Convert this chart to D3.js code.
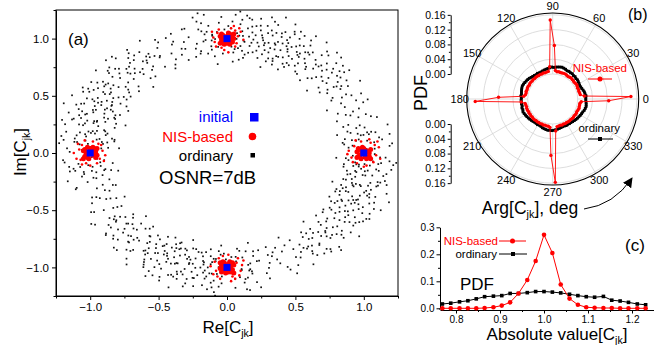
<!DOCTYPE html>
<html>
<head>
<meta charset="utf-8">
<script src="https://cdn.jsdelivr.net/npm/d3@7"></script>
<style>
  body { margin: 0; background: #fff; }
  svg { display: block; font-family: Arial, "Liberation Sans", sans-serif; }
</style>
</head>
<body>
<svg id="chart" width="654" height="345"></svg>
<script>
/********************* Data *************************/
// panel (a): constellation, initial points
const initialRe = [0, -1, 0, 1];
const initialIm = [1, 0, -1, 0];

// panel (a): NIS-based samples, offsets from each initial point [dRe, dIm]
const nisNorth = [[0.01,0.02],[-0.02,0.01],[0.03,-0.01],[-0.01,-0.03],[0.04,0.03],[-0.04,-0.01],[0.02,0.04],[-0.03,0.03],[0.00,-0.04],[0.05,0.00],[-0.05,0.02],[0.02,-0.05],[-0.02,-0.05],[0.04,-0.03],[-0.04,0.04],[0.01,0.05],[0.03,0.01],[-0.01,0.00],[0.00,0.02],[-0.03,-0.03],[0.05,0.04],[-0.05,-0.04],
  [0.08,0.02],[-0.07,0.05],[0.06,-0.07],[-0.09,-0.03],[0.03,0.09],[-0.02,-0.10],[0.10,0.06],[-0.06,0.08],[0.07,-0.04],[-0.10,0.01],[0.05,0.11],[-0.04,-0.08],[0.12,-0.01],[-0.08,-0.07],[0.09,0.09],[0.01,-0.12],[-0.11,0.06],[0.06,0.07]];
const nisWest = [[-0.01,0.01],[0.02,-0.02],[-0.03,0.00],[0.01,0.03],[-0.04,-0.03],[0.04,0.01],[-0.02,-0.04],[0.03,0.04],[0.00,0.04],[-0.05,0.02],[0.05,-0.02],[-0.02,0.05],[0.02,0.05],[-0.04,0.03],[0.04,-0.04],[-0.01,-0.05],[0.01,-0.01],[0.00,0.00],[-0.03,-0.02],[0.03,0.02],[0.05,0.04],[-0.05,-0.05],
  [-0.08,0.03],[0.07,-0.05],[-0.06,0.07],[0.09,0.02],[-0.03,-0.09],[0.02,0.10],[-0.10,-0.05],[0.06,0.08],[-0.07,-0.06],[0.11,-0.02],[-0.04,0.11],[0.05,-0.09],[-0.12,0.00],[0.08,0.07],[-0.09,0.08],[0.00,-0.11],[0.10,-0.07],[-0.06,-0.10]];
const nisSouth = [[0.02,0.00],[-0.01,0.02],[0.00,-0.02],[-0.03,-0.01],[0.03,0.03],[-0.02,0.04],[0.04,-0.02],[-0.04,0.02],[0.01,-0.04],[0.05,0.02],[-0.05,-0.01],[0.02,0.05],[-0.01,-0.05],[0.03,-0.04],[-0.03,0.05],[0.04,0.04],[-0.04,-0.04],[0.00,0.01],[0.01,0.03],[-0.02,-0.02],[0.05,-0.05],[-0.05,0.04],
  [0.07,0.04],[-0.08,-0.03],[0.04,-0.08],[-0.06,0.08],[0.10,-0.03],[-0.03,0.10],[0.08,0.08],[-0.10,-0.06],[0.01,0.11],[-0.05,-0.10],[0.11,0.02],[-0.09,0.05],[0.06,-0.10],[-0.12,0.01],[0.03,-0.12],[0.09,-0.07],[-0.07,-0.08],[0.12,0.06]];
const nisEast = [[0.00,0.01],[0.02,0.02],[-0.02,-0.01],[0.01,-0.03],[-0.03,0.03],[0.04,0.00],[-0.04,-0.03],[0.03,-0.04],[0.00,0.04],[-0.05,0.01],[0.05,0.03],[-0.01,0.05],[0.02,-0.05],[-0.04,0.04],[0.04,-0.03],[-0.02,-0.05],[0.01,0.00],[-0.01,0.02],[0.03,0.01],[-0.03,-0.02],[0.05,-0.05],[-0.05,-0.04],
  [0.09,-0.02],[-0.07,0.06],[0.05,0.09],[-0.09,-0.04],[0.07,-0.08],[-0.02,0.10],[0.11,0.05],[-0.05,-0.09],[0.02,-0.11],[-0.11,0.02],[0.08,0.07],[-0.08,-0.08],[0.12,-0.05],[0.00,-0.12],[-0.06,0.11],[0.10,0.10],[-0.12,-0.01],[0.04,0.12]];

// panel (a): ordinary samples, [arg in deg, |C|]
const ordinaryPolar = [
  [91,1.08],[94,0.93],[97,1.12],[100,0.99],[92,1.19],[96,0.85],[99,1.05],[102,0.91],[93,1.01],[98,1.22],[101,1.10],[95,0.78],
  [81,1.03],[85,0.92],[88,1.15],[83,1.21],[87,0.88],[84,1.07],[89,0.97],[82,0.84],[86,1.26],[80,0.95],[88,1.02],[83,0.99],[85,1.13],[81,1.18],[87,0.80],[84,0.94],[86,1.05],[82,1.10],[89,1.28],[80,0.89],
  [79,1.01],[76,0.96],[73,1.12],[70,0.88],[67,1.04],[64,0.93],[61,1.17],[58,0.99],[56,1.06],[78,1.20],[75,0.86],[72,1.08],[69,0.97],[66,1.23],[63,0.82],[60,1.02],[57,0.91],[77,1.10],[74,1.00],[71,0.93],[68,1.14],[65,1.06],[62,0.96],[59,1.09],[55,0.87],[78,0.90],[75,1.15],[72,0.79],[69,1.04],[66,0.92],[63,1.19],[60,0.95],[57,1.12],[76,1.06],[73,0.94],[70,1.26],[67,0.84],[64,1.01],[61,0.90],[58,1.16],[74,0.98],[71,1.11],[68,0.89],[65,1.03],[62,1.13],
  [54,0.97],[51,1.10],[48,0.88],[45,1.03],[42,0.94],[39,1.15],[36,0.99],[53,1.21],[50,0.83],[47,1.07],[44,0.96],[41,1.09],[38,0.86],[35,1.02],[52,0.93],[49,1.13],[46,1.00],[43,0.80],[40,1.05],[37,0.92],[55,1.05],[50,1.01],[45,1.18],[40,0.95],[36,1.08],
  [34,1.00],[31,0.89],[28,1.11],[25,0.95],[22,1.04],[19,0.85],[16,1.14],[13,0.97],[10,1.07],[7,0.92],[33,1.16],[30,0.97],[27,0.82],[24,1.09],[21,0.93],[18,1.01],[15,0.88],[12,1.20],[9,0.99],[6,1.03],[29,1.04],[20,0.96],
  [181,1.02],[184,0.90],[187,1.13],[190,0.97],[183,1.20],[186,0.84],[189,1.06],[192,0.93],[182,0.99],[188,1.16],[185,1.09],[191,0.81],
  [171,1.05],[175,0.91],[178,1.17],[173,1.22],[177,0.87],[174,1.04],[179,0.95],[172,0.83],[176,1.27],[170,0.98],[178,1.01],[173,0.96],[175,1.12],[171,1.19],[177,0.79],[174,0.92],[176,1.08],[172,1.11],[179,1.25],[170,0.90],
  [169,1.00],[166,0.97],[163,1.13],[160,0.87],[157,1.05],[154,0.94],[151,1.16],[148,1.00],[146,1.07],[168,1.21],[165,0.85],[162,1.09],[159,0.96],[156,1.24],[153,0.81],[150,1.03],[147,0.90],[167,1.11],[164,1.01],[161,0.92],[158,1.15],[155,1.07],[152,0.95],[149,1.10],[145,0.86],[168,0.91],[165,1.16],[162,0.78],[159,1.05],[156,0.93],[153,1.18],[150,0.96],[147,1.13],[166,1.07],[163,0.93],[160,1.27],[157,0.85],[154,1.02],[151,0.89],[148,1.17],[164,0.99],[161,1.12],[158,0.88],[155,1.04],[152,1.14],
  [144,0.98],[141,1.11],[138,0.87],[135,1.04],[132,0.95],[129,1.16],[126,1.00],[143,1.20],[140,0.84],[137,1.08],[134,0.97],[131,1.10],[128,0.85],[125,1.03],[142,0.94],[139,1.14],[136,1.01],[133,0.79],[130,1.06],[127,0.91],[145,1.06],[140,1.02],[135,1.19],[130,0.96],[126,1.09],
  [124,1.01],[121,0.88],[118,1.12],[115,0.96],[112,1.05],[109,0.86],[106,1.13],[103,0.98],[100,1.08],[97,0.91],[123,1.17],[120,0.98],[117,0.83],[114,1.10],[111,0.92],[108,1.02],[105,0.87],[102,1.21],[99,1.00],[96,1.04],[119,1.05],[110,0.97],
  [271,1.03],[274,0.91],[277,1.11],[280,0.98],[273,1.18],[276,0.86],[279,1.04],[282,0.92],[272,1.00],[278,1.21],[275,1.09],[281,0.80],
  [261,1.04],[265,0.93],[268,1.14],[263,1.20],[267,0.89],[264,1.06],[269,0.96],[262,0.85],[266,1.25],[260,0.97],[268,1.03],[263,0.98],[265,1.12],[261,1.17],[267,0.81],[264,0.93],[266,1.06],[262,1.09],[269,1.27],[260,0.88],
  [259,1.02],[256,0.95],[253,1.11],[250,0.89],[247,1.05],[244,0.92],[241,1.18],[238,0.98],[236,1.07],[258,1.19],[255,0.87],[252,1.09],[249,0.96],[246,1.22],[243,0.83],[240,1.01],[237,0.90],[257,1.12],[254,1.00],[251,0.94],[248,1.15],[245,1.05],[242,0.97],[239,1.08],[235,0.88],[258,0.89],[255,1.14],[252,0.80],[249,1.03],[246,0.91],[243,1.20],[240,0.94],[237,1.11],[256,1.07],[253,0.95],[250,1.25],[247,0.85],[244,1.00],[241,0.91],[238,1.15],[254,0.97],[251,1.12],[248,0.90],[245,1.02],[242,1.13],
  [234,0.96],[231,1.09],[228,0.89],[225,1.02],[222,0.93],[219,1.14],[216,1.00],[233,1.22],[230,0.84],[227,1.06],[224,0.95],[221,1.10],[218,0.87],[215,1.01],[232,0.92],[229,1.12],[226,1.01],[223,0.81],[220,1.04],[217,0.93],[235,1.04],[230,1.00],[225,1.17],[220,0.96],[216,1.07],
  [214,0.99],[211,0.90],[208,1.10],[205,0.94],[202,1.03],[199,0.86],[196,1.15],[193,0.98],[190,1.06],[187,0.93],[213,1.15],[210,0.96],[207,0.84],[204,1.08],[201,0.92],[198,1.00],[195,0.89],[192,1.19],[189,1.00],[186,1.02],[209,1.03],[200,0.95],
  [1,1.01],[4,0.92],[7,1.12],[10,0.97],[3,1.19],[6,0.85],[9,1.05],[12,0.90],[2,1.02],[8,1.20],[5,1.08],[11,0.82],
  [351,1.02],[355,0.94],[358,1.16],[353,1.21],[357,0.87],[354,1.05],[359,0.98],[352,0.86],[356,1.24],[350,0.96],[358,1.04],[353,0.97],[355,1.11],[351,1.18],[357,0.80],[354,0.95],[356,1.07],[352,1.12],[359,1.26],[350,0.89],
  [349,1.03],[346,0.94],[343,1.10],[340,0.90],[337,1.04],[334,0.93],[331,1.19],[328,0.97],[326,1.08],[348,1.18],[345,0.88],[342,1.07],[339,0.95],[336,1.23],[333,0.84],[330,1.02],[327,0.91],[347,1.13],[344,1.01],[341,0.92],[338,1.16],[335,1.06],[332,0.98],[329,1.09],[325,0.86],[348,0.90],[345,1.13],[342,0.81],[339,1.04],[336,0.90],[333,1.17],[330,0.95],[327,1.12],[346,1.08],[343,0.96],[340,1.26],[337,0.86],[334,1.01],[331,0.90],[328,1.14],[344,0.98],[341,1.10],[338,0.89],[335,1.03],[332,1.12],
  [324,0.97],[321,1.08],[318,0.90],[315,1.03],[312,0.94],[309,1.13],[306,1.01],[323,1.21],[320,0.85],[317,1.05],[314,0.96],[311,1.11],[308,0.88],[305,1.02],[322,0.93],[319,1.13],[316,1.00],[313,0.82],[310,1.05],[307,0.92],[325,1.05],[320,1.01],[315,1.16],[310,0.97],[306,1.06],
  [304,1.00],[301,0.89],[298,1.11],[295,0.95],[292,1.04],[289,0.87],[286,1.14],[283,0.97],[280,1.07],[277,0.92],[303,1.16],[300,0.97],[297,0.83],[294,1.09],[291,0.93],[288,1.01],[285,0.88],[282,1.20],[279,0.99],[276,1.03],[299,1.04],[290,0.96]
];
// more ordinary samples read from the denser parts of the ring
const ordinaryPolar2 = [
  [90,0.96],[93,1.14],[96,1.03],[99,0.88],[101,1.17],[94,1.06],[97,0.94],[92,0.87],[100,1.24],[95,1.00],
  [80.5,1.12],[82.5,0.98],[84.5,1.17],[86.5,0.91],[88.5,1.09],[81.5,0.87],[83.5,1.03],[85.5,1.24],[87.5,0.97],[89.5,1.11],[80,1.07],[84,0.82],[86,1.00],[88,0.93],[82,1.19],[85,1.03],[87,1.21],[83,0.90],
  [79.5,0.98],[77.5,1.14],[75.5,1.04],[73.5,0.90],[71.5,1.18],[69.5,1.01],[67.5,0.87],[65.5,1.11],[63.5,0.99],[61.5,1.06],[59.5,0.89],[57.5,1.21],[55.5,1.00],[78.5,1.05],[76.5,0.92],[74.5,1.23],[72.5,1.01],[70.5,0.85],[68.5,1.09],[66.5,0.98],[64.5,1.15],[62.5,0.88],[60.5,1.08],[58.5,1.02],[56.5,0.94],[79,1.13],[77,0.99],[75,1.02],[73,1.20],[71,0.97],[69,1.12],[67,0.92],[65,1.17],[63,1.04],[61,0.86],[59,1.00],[57,1.05],[74,1.09],[70,1.02],[66,1.08],
  [54.5,1.08],[52.5,0.95],[50.5,1.15],[48.5,1.01],[46.5,0.90],[44.5,1.12],[42.5,1.04],[40.5,0.88],[38.5,1.06],[36.5,0.97],[53.5,0.86],[51.5,1.04],[49.5,0.97],[47.5,1.19],[45.5,0.93],[43.5,1.07],[41.5,0.99],[39.5,1.11],[37.5,1.02],[35.5,0.90],[48,1.03],[42,1.14],
  [33.5,1.06],[30.5,1.01],[27.5,0.94],[24.5,1.13],[21.5,0.99],[18.5,1.07],[15.5,0.92],[12.5,1.03],[9.5,1.10],[6.5,0.95],[32,0.91],[26,1.05],[23,0.88],[17,1.10],[14,1.00],[8,0.87],
  [180,1.01],[183,0.95],[186,1.16],[189,0.90],[191,1.08],[184,1.19],[187,0.99],[182,1.05],[190,0.86],[185,0.93],
  [170.5,1.09],[172.5,0.94],[174.5,1.20],[176.5,0.98],[178.5,1.06],[171.5,0.85],[173.5,1.12],[175.5,1.02],[177.5,0.92],[179.5,1.15],[170,1.01],[174,0.88],[176,1.23],[178,0.96],[172,1.04],[175,1.10],[177,1.00],[173,0.83],
  [169.5,1.03],[167.5,0.92],[165.5,1.17],[163.5,0.99],[161.5,1.08],[159.5,0.88],[157.5,1.13],[155.5,1.01],[153.5,0.94],[151.5,1.20],[149.5,1.05],[147.5,0.87],[145.5,1.10],[168.5,0.97],[166.5,1.24],[164.5,1.06],[162.5,0.85],[160.5,1.15],[158.5,1.03],[156.5,0.91],[154.5,1.09],[152.5,0.99],[150.5,1.12],[148.5,0.93],[146.5,1.02],[169,0.89],[167,1.08],[165,1.01],[163,1.21],[161,0.95],[159,1.18],[157,0.97],[155,1.13],[153,1.06],[151,0.84],[149,1.00],[147,1.07],[164,1.11],[160,1.04],[156,0.96],
  [144.5,1.02],[142.5,0.91],[140.5,1.13],[138.5,1.05],[136.5,0.94],[134.5,1.16],[132.5,1.00],[130.5,0.86],[128.5,1.09],[126.5,0.98],[143.5,0.89],[141.5,1.07],[139.5,0.95],[137.5,1.20],[135.5,0.99],[133.5,1.04],[131.5,0.92],[129.5,1.13],[127.5,1.01],[125.5,0.93],[138,1.10],[132,1.06],
  [123.5,1.04],[120.5,0.97],[117.5,1.09],[114.5,0.90],[111.5,1.12],[108.5,0.96],[105.5,1.05],[102.5,0.89],[99.5,1.15],[96.5,0.99],[122,1.00],[116,0.86],[113,1.03],[107,1.13],[104,0.94],[98,1.07],
  [270,0.98],[273,1.10],[276,1.02],[279,0.87],[281,1.15],[274,0.95],[277,1.20],[272,0.91],[280,1.05],[275,0.84],
  [260.5,1.06],[262.5,0.91],[264.5,1.18],[266.5,1.00],[268.5,0.88],[261.5,1.11],[263.5,0.96],[265.5,1.22],[267.5,1.04],[269.5,0.93],[260,0.99],[264,1.14],[266,0.86],[268,1.08],[262,1.01],[265,0.95],[267,1.17],[263,1.06],
  [259.5,0.96],[257.5,1.12],[255.5,1.00],[253.5,0.87],[251.5,1.16],[249.5,1.03],[247.5,0.91],[245.5,1.19],[243.5,0.98],[241.5,1.07],[239.5,0.85],[237.5,1.13],[235.5,1.01],[258.5,1.09],[256.5,0.89],[254.5,1.21],[252.5,0.97],[250.5,1.10],[248.5,1.04],[246.5,0.86],[244.5,1.12],[242.5,1.00],[240.5,0.93],[238.5,1.17],[236.5,1.05],[259,0.92],[257,1.03],[255,1.18],[253,1.06],[251,0.90],[249,1.14],[247,0.99],[245,0.88],[243,1.09],[241,1.23],[239,1.02],[237,0.95],[254,1.01],[250,1.15],[246,0.94],
  [234.5,1.05],[232.5,0.92],[230.5,1.11],[228.5,0.99],[226.5,1.17],[224.5,0.88],[222.5,1.03],[220.5,0.95],[218.5,1.13],[216.5,1.01],[233.5,0.98],[231.5,1.18],[229.5,0.87],[227.5,1.06],[225.5,0.94],[223.5,1.10],[221.5,1.00],[219.5,0.89],[217.5,1.07],[215.5,0.96],[228,1.02],[222,1.12],
  [213.5,1.03],[210.5,0.93],[207.5,1.12],[204.5,0.97],[201.5,1.06],[198.5,0.88],[195.5,1.14],[192.5,1.00],[189.5,0.91],[186.5,1.08],[212,1.17],[206,0.90],[203,1.01],[197,0.95],[194,1.05],[188,1.12],
  [0,1.00],[3,0.89],[6,1.14],[9,1.01],[11,0.92],[4,1.21],[7,0.97],[2,1.08],[10,1.04],[5,0.86],
  [350.5,0.95],[352.5,1.10],[354.5,1.01],[356.5,1.19],[358.5,0.92],[351.5,1.04],[353.5,0.86],[355.5,1.13],[357.5,1.00],[359.5,1.08],[350,1.16],[354,0.97],[356,0.89],[358,1.12],[352,0.99],[355,1.22],[357,1.05],[353,0.93],
  [349.5,1.08],[347.5,0.96],[345.5,1.14],[343.5,1.02],[341.5,0.88],[339.5,1.11],[337.5,0.99],[335.5,1.18],[333.5,0.94],[331.5,1.05],[329.5,1.00],[327.5,0.89],[325.5,1.12],[348.5,0.92],[346.5,1.20],[344.5,1.07],[342.5,0.97],[340.5,1.15],[338.5,0.86],[336.5,1.03],[334.5,1.10],[332.5,0.91],[330.5,1.17],[328.5,1.04],[326.5,0.95],[349,1.01],[347,1.15],[345,0.90],[343,1.22],[341,1.06],[339,0.93],[337,1.13],[335,0.98],[333,1.08],[331,0.87],[329,1.16],[327,1.03],[344,0.95],[340,1.09],[336,1.01],
  [324.5,1.01],[322.5,1.14],[320.5,0.94],[318.5,1.07],[316.5,0.99],[314.5,1.19],[312.5,0.90],[310.5,1.04],[308.5,0.96],[306.5,1.11],[323.5,0.87],[321.5,1.03],[319.5,1.10],[317.5,0.93],[315.5,1.06],[313.5,1.00],[311.5,1.15],[309.5,0.91],[307.5,1.02],[305.5,1.08],[318,0.98],[312,1.13],
  [303.5,0.96],[300.5,1.06],[297.5,0.91],[294.5,1.12],[291.5,1.00],[288.5,0.94],[285.5,1.09],[282.5,0.88],[279.5,1.03],[276.5,1.14],[302,1.02],[296,1.17],[293,0.90],[287,1.05],[284,0.97],[278,1.10]
];

// panel (b): PDF of Arg[Cjk], 100 bins of 3.6 deg starting at 0
const argBinWidth = 3.6;
const nisArgPdf = [
  0.144,0.018,0.008,0.007,0.006,0.007,0.006,0.007,0.008,0.007,
  0.006,0.007,0.007,0.008,0.007,0.006,0.007,0.008,0.008,0.007,
  0.007,0.008,0.007,0.010,0.077,0.146,0.020,0.008,0.007,0.006,
  0.007,0.006,0.007,0.006,0.007,0.007,0.006,0.007,0.006,0.007,
  0.007,0.006,0.007,0.007,0.006,0.007,0.006,0.007,0.011,0.079,
  0.142,0.018,0.008,0.007,0.006,0.007,0.007,0.006,0.007,0.006,
  0.007,0.006,0.007,0.007,0.006,0.007,0.006,0.007,0.006,0.007,
  0.006,0.007,0.007,0.010,0.085,0.158,0.019,0.008,0.007,0.006,
  0.007,0.006,0.007,0.006,0.007,0.007,0.006,0.007,0.007,0.006,
  0.007,0.007,0.006,0.007,0.008,0.007,0.007,0.007,0.010,0.084
];
const ordArgPdf = [
  0.022,0.023,0.021,0.020,0.018,0.016,0.015,0.014,0.015,0.016,
  0.017,0.016,0.018,0.017,0.019,0.018,0.019,0.018,0.020,0.021,
  0.022,0.021,0.020,0.019,0.018,0.019,0.017,0.016,0.015,0.014,
  0.013,0.012,0.012,0.013,0.012,0.013,0.014,0.015,0.017,0.018,
  0.019,0.020,0.021,0.022,0.021,0.020,0.019,0.018,0.019,0.017,
  0.018,0.017,0.018,0.017,0.019,0.018,0.020,0.019,0.018,0.017,
  0.016,0.015,0.014,0.013,0.012,0.012,0.013,0.012,0.013,0.015,
  0.016,0.017,0.018,0.017,0.018,0.017,0.016,0.015,0.014,0.013,
  0.012,0.012,0.013,0.012,0.013,0.013,0.014,0.015,0.016,0.017,
  0.018,0.019,0.020,0.021,0.023,0.024,0.025,0.024,0.023,0.022
];
const argTicks = [0, 30, 60, 90, 120, 150, 180, 210, 240, 270, 300, 330];
const pdfTicks = [0, 0.04, 0.08, 0.12, 0.16];

// panel (c): PDF of |Cjk|
const absValue = [0.769,0.788,0.808,0.827,0.846,0.865,0.885,0.904,0.923,0.942,0.962,0.981,1.000,
                  1.019,1.038,1.058,1.077,1.096,1.115,1.135,1.154,1.173,1.192,1.212,1.231];
const nisAbsPdf = [0,0,0,0,0,0.001,0.004,0.010,0.022,0.055,0.105,0.175,0.272,
                   0.205,0.088,0.036,0.013,0.004,0.002,0.001,0.001,0,0,0,0];
const ordAbsPdf = [0.016,0.019,0.024,0.028,0.035,0.043,0.045,0.047,0.055,0.055,0.058,0.062,0.062,
                   0.060,0.057,0.052,0.047,0.043,0.041,0.044,0.030,0.027,0.022,0.016,0.013];

const RED = '#ff0000', BLUE = '#0000ff';
const svg = d3.select('#chart');

// helper: text with a "jk" subscript, e.g. Re[C_jk]
function subLabel(sel, pre, post) {
  sel.append('tspan').text(pre);
  sel.append('tspan').attr('dy', 4).attr('font-size', '0.62em').text('jk');
  sel.append('tspan').attr('dy', -4).text(post);
  return sel;
}

function styleAxis(g, size) {
  g.attr('font-family', null).attr('font-size', size);
  g.selectAll('path, line').attr('stroke', '#000').attr('stroke-width', 1);
}

/***************** Panel (a) ************************/
const ax = d3.scaleLinear().domain([-1.25, 1.25]).range([56, 398]);
const ay = d3.scaleLinear().domain([-1.25, 1.25]).range([296, 10]);

svg.append('clipPath').attr('id', 'clipA')
   .append('rect').attr('x', 56).attr('y', 10).attr('width', 342).attr('height', 286);

const pa = svg.append('g').attr('clip-path', 'url(#clipA)');

pa.selectAll('.ord')
  .data(ordinaryPolar.concat(ordinaryPolar2))
  .enter().append('rect')
  .attr('class', 'ord')
  .attr('x', d => ax(d[1] * Math.cos(d[0] * Math.PI / 180)) - 0.85)
  .attr('y', d => ay(d[1] * Math.sin(d[0] * Math.PI / 180)) - 0.85)
  .attr('width', 1.7).attr('height', 1.7)
  .attr('fill', '#111');

// NIS samples: bigger dots in the dense core, small dots in the fringe
[nisNorth, nisWest, nisSouth, nisEast].forEach((pts, i) => {
  pa.selectAll('.nis' + i)
    .data(pts)
    .enter().append('circle')
    .attr('class', 'nis' + i)
    .attr('cx', d => ax(initialRe[i] + d[0]))
    .attr('cy', d => ay(initialIm[i] + d[1]))
    .attr('r', d => Math.hypot(d[0], d[1]) < 0.072 ? 2.5 : 1.3)
    .attr('fill', RED);
});

pa.selectAll('.init')
  .data(initialRe)
  .enter().append('rect')
  .attr('class', 'init')
  .attr('x', (d, i) => ax(d) - 3.5)
  .attr('y', (d, i) => ay(initialIm[i]) - 3.5)
  .attr('width', 7).attr('height', 7)
  .attr('fill', BLUE);

// axes (a)
const axTicks = [-1, -0.5, 0, 0.5, 1];
const axMinor = [-1.25, -0.75, -0.25, 0.25, 0.75, 1.25];
svg.append('g').attr('transform', 'translate(0,296)')
   .call(d3.axisBottom(ax).tickValues(axTicks).tickSize(4).tickSizeOuter(0).tickPadding(3).tickFormat(d3.format('.1f')))
   .call(g => styleAxis(g, 11.5));
svg.append('g').attr('transform', 'translate(0,296)')
   .call(d3.axisBottom(ax).tickValues(axMinor).tickSize(2.5).tickFormat(''))
   .call(g => { styleAxis(g, 11.5); g.select('.domain').remove(); });
svg.append('g').attr('transform', 'translate(56,0)')
   .call(d3.axisLeft(ay).tickValues(axTicks).tickSize(4).tickSizeOuter(0).tickPadding(3).tickFormat(d3.format('.1f')))
   .call(g => styleAxis(g, 11.5));
svg.append('g').attr('transform', 'translate(56,0)')
   .call(d3.axisLeft(ay).tickValues(axMinor).tickSize(2.5).tickFormat(''))
   .call(g => { styleAxis(g, 11.5); g.select('.domain').remove(); });
svg.append('rect').attr('x', 56).attr('y', 10).attr('width', 342).attr('height', 286)
   .attr('fill', 'none').attr('stroke', '#000').attr('stroke-width', 1);

subLabel(svg.append('text').attr('x', 228).attr('y', 333).attr('text-anchor', 'middle').attr('font-size', 17), 'Re[C', ']');
subLabel(svg.append('text').attr('transform', 'translate(26,152) rotate(-90)').attr('text-anchor', 'middle').attr('font-size', 17), 'Im[C', ']');

svg.append('text').attr('x', 68).attr('y', 45).attr('font-size', 17).text('(a)');

// legend (a)
const legA = svg.append('g');
legA.append('text').attr('x', 233).attr('y', 122).attr('text-anchor', 'end').attr('font-size', 15).attr('fill', BLUE).text('initial');
legA.append('rect').attr('x', 250).attr('y', 113).attr('width', 8.5).attr('height', 8.5).attr('fill', BLUE);
legA.append('text').attr('x', 233).attr('y', 142).attr('text-anchor', 'end').attr('font-size', 15).attr('fill', RED).text('NIS-based');
legA.append('circle').attr('cx', 252.5).attr('cy', 136.5).attr('r', 3.8).attr('fill', RED);
legA.append('text').attr('x', 233).attr('y', 160.5).attr('text-anchor', 'end').attr('font-size', 15).attr('fill', '#000').text('ordinary');
legA.append('rect').attr('x', 250.5).attr('y', 153).attr('width', 4.5).attr('height', 4.5).attr('fill', '#000');
svg.append('text').attr('x', 159).attr('y', 184).attr('font-size', 18.5).text('OSNR=7dB');

/***************** Panel (b) ************************/
const cx = 552.7, cy = 99;
const rScale = d3.scaleLinear().domain([0, 0.165]).range([25, 86]);
const toRad = a => a * Math.PI / 180;
const px = (a, v) => cx + rScale(v) * Math.cos(toRad(a));
const py = (a, v) => cy - rScale(v) * Math.sin(toRad(a));

const pb = svg.append('g');

// grid
pb.selectAll('.gridc')
  .data(pdfTicks)
  .enter().append('circle')
  .attr('cx', cx).attr('cy', cy)
  .attr('r', d => rScale(d))
  .attr('fill', 'none').attr('stroke', '#d4d4d4').attr('stroke-width', 0.8);
pb.selectAll('.spoke')
  .data(argTicks)
  .enter().append('line')
  .attr('x1', d => px(d, 0)).attr('y1', d => py(d, 0))
  .attr('x2', d => cx + 86 * Math.cos(toRad(d))).attr('y2', d => cy - 86 * Math.sin(toRad(d)))
  .attr('stroke', '#d4d4d4').attr('stroke-width', 0.8);
pb.append('circle').attr('cx', cx).attr('cy', cy).attr('r', 86)
  .attr('fill', 'none').attr('stroke', '#000').attr('stroke-width', 1.1);

pb.selectAll('.argLab')
  .data(argTicks)
  .enter().append('text')
  .attr('x', d => cx + 93 * Math.cos(toRad(d)))
  .attr('y', d => cy - 93 * Math.sin(toRad(d)) + 4)
  .attr('text-anchor', 'middle')
  .attr('font-size', 11)
  .text(d => d);

const radial = d3.lineRadial()
  .angle((d, i) => toRad(90 - (i + 0.5) * argBinWidth))
  .radius(d => rScale(d))
  .curve(d3.curveLinearClosed);

pb.append('path')
  .attr('transform', `translate(${cx},${cy})`)
  .attr('d', radial(ordArgPdf))
  .attr('fill', 'none').attr('stroke', '#000').attr('stroke-width', 2.2).attr('stroke-linejoin', 'round');
pb.selectAll('.ordM')
  .data(ordArgPdf)
  .enter().append('rect')
  .attr('x', (d, i) => px((i + 0.5) * argBinWidth, d) - 1.4)
  .attr('y', (d, i) => py((i + 0.5) * argBinWidth, d) - 1.4)
  .attr('width', 2.8).attr('height', 2.8).attr('fill', '#000');

pb.append('path')
  .attr('transform', `translate(${cx},${cy})`)
  .attr('d', radial(nisArgPdf))
  .attr('fill', 'none').attr('stroke', RED).attr('stroke-width', 0.9);
pb.selectAll('.nisM')
  .data(nisArgPdf)
  .enter().append('circle')
  .attr('cx', (d, i) => px((i + 0.5) * argBinWidth, d))
  .attr('cy', (d, i) => py((i + 0.5) * argBinWidth, d))
  .attr('r', 1.7).attr('fill', RED);

// radial PDF axis, upper and lower halves
const axisX = 450.7;
const upY = d3.scaleLinear().domain([0, 0.16]).range([cy - rScale(0), cy - rScale(0.16)]);
const loY = d3.scaleLinear().domain([0, 0.16]).range([cy + rScale(0), cy + rScale(0.16)]);
[upY, loY].forEach(s => {
  svg.append('g').attr('transform', `translate(${axisX},0)`)
     .call(d3.axisLeft(s).tickValues(pdfTicks).tickSize(3).tickSizeOuter(0).tickPadding(2).tickFormat(d3.format('.2f')))
     .call(g => styleAxis(g, 10.5));
  svg.append('g').attr('transform', `translate(${axisX},0)`)
     .call(d3.axisLeft(s).tickValues([0.02, 0.06, 0.10, 0.14]).tickSize(1.8).tickFormat(''))
     .call(g => { styleAxis(g, 10.5); g.select('.domain').remove(); });
});
svg.append('text').attr('transform', 'translate(427,93) rotate(-90)').attr('text-anchor', 'middle')
   .attr('font-size', 18).text('PDF');

// legend (b)
svg.append('text').attr('x', 627).attr('y', 72).attr('text-anchor', 'end').attr('font-size', 11.5).attr('fill', RED).text('NIS-based');
svg.append('line').attr('x1', 588).attr('x2', 612).attr('y1', 79).attr('y2', 79).attr('stroke', RED).attr('stroke-width', 1);
svg.append('circle').attr('cx', 600).attr('cy', 79).attr('r', 2.5).attr('fill', RED);
svg.append('text').attr('x', 620).attr('y', 132).attr('text-anchor', 'end').attr('font-size', 11.5).text('ordinary');
svg.append('line').attr('x1', 588).attr('x2', 613).attr('y1', 139).attr('y2', 139).attr('stroke', '#000').attr('stroke-width', 1);
svg.append('rect').attr('x', 598).attr('y', 137).attr('width', 4).attr('height', 4).attr('fill', '#000');

svg.append('text').attr('x', 628).attr('y', 20).attr('font-size', 16).text('(b)');
subLabel(svg.append('text').attr('x', 530).attr('y', 214).attr('text-anchor', 'middle').attr('font-size', 17.5), 'Arg[C', '], deg');

// curved arrow
svg.append('defs').append('marker')
   .attr('id', 'arrowHead').attr('viewBox', '0 0 10 10').attr('refX', 9).attr('refY', 5)
   .attr('markerWidth', 10).attr('markerHeight', 10).attr('markerUnits', 'userSpaceOnUse').attr('orient', 'auto')
   .append('path').attr('d', 'M0,0 L10,5 L0,10 Z').attr('fill', '#000');
svg.append('path')
   .attr('d', 'M584,209 Q614,205 632,178')
   .attr('fill', 'none').attr('stroke', '#000').attr('stroke-width', 1)
   .attr('marker-end', 'url(#arrowHead)');

/***************** Panel (c) ************************/
const cxs = d3.scaleLinear().domain([0.7636, 1.25]).range([440, 654]);
const cys = d3.scaleLinear().domain([0, 0.3]).range([308.3, 227.3]);

svg.append('g').attr('transform', 'translate(0,310)')
   .call(d3.axisBottom(cxs).tickValues([0.8, 0.9, 1.0, 1.1, 1.2]).tickSize(3.5).tickSizeOuter(0).tickPadding(2).tickFormat(d3.format('.1f')))
   .call(g => styleAxis(g, 10));
svg.append('g').attr('transform', 'translate(0,310)')
   .call(d3.axisBottom(cxs).tickValues([0.85, 0.95, 1.05, 1.15]).tickSize(2).tickFormat(''))
   .call(g => { styleAxis(g, 10); g.select('.domain').remove(); });
svg.append('g').attr('transform', 'translate(440,0)')
   .call(d3.axisLeft(cys).tickValues([0, 0.1, 0.2, 0.3]).tickSize(3.5).tickSizeOuter(0).tickPadding(2).tickFormat(d3.format('.1f')))
   .call(g => styleAxis(g, 10));
svg.append('g').attr('transform', 'translate(440,0)')
   .call(d3.axisLeft(cys).tickValues([0.05, 0.15, 0.25]).tickSize(2).tickFormat(''))
   .call(g => { styleAxis(g, 10); g.select('.domain').remove(); });
// extend y axis line down to x axis
svg.append('line').attr('x1', 440).attr('x2', 440).attr('y1', 308.3).attr('y2', 310).attr('stroke', '#000');

const lineC = d3.line().x((d, i) => cxs(absValue[i])).y(d => cys(d));

svg.append('path').attr('d', lineC(ordAbsPdf))
   .attr('fill', 'none').attr('stroke', '#000').attr('stroke-width', 1);
svg.selectAll('.ordC')
   .data(ordAbsPdf)
   .enter().append('rect')
   .attr('x', (d, i) => cxs(absValue[i]) - 1.8)
   .attr('y', d => cys(d) - 1.8)
   .attr('width', 3.6).attr('height', 3.6).attr('fill', '#000');

svg.append('path').attr('d', lineC(nisAbsPdf))
   .attr('fill', 'none').attr('stroke', RED).attr('stroke-width', 1);
svg.selectAll('.nisC')
   .data(nisAbsPdf)
   .enter().append('circle')
   .attr('cx', (d, i) => cxs(absValue[i]))
   .attr('cy', d => cys(d))
   .attr('r', 2.3).attr('fill', RED);

// legend (c)
svg.append('text').attr('x', 498).attr('y', 245).attr('text-anchor', 'end').attr('font-size', 11.5).attr('fill', RED).text('NIS-based');
svg.append('line').attr('x1', 499).attr('x2', 526).attr('y1', 241).attr('y2', 241).attr('stroke', RED);
svg.append('circle').attr('cx', 512.5).attr('cy', 241).attr('r', 2.5).attr('fill', RED);
svg.append('text').attr('x', 497).attr('y', 258).attr('text-anchor', 'end').attr('font-size', 11.5).text('ordinary');
svg.append('line').attr('x1', 499).attr('x2', 527).attr('y1', 254).attr('y2', 254).attr('stroke', '#000');
svg.append('rect').attr('x', 511).attr('y', 252).attr('width', 4).attr('height', 4).attr('fill', '#000');

svg.append('text').attr('x', 460).attr('y', 290).attr('font-size', 17).text('PDF');
svg.append('text').attr('x', 625).attr('y', 251).attr('font-size', 17).text('(c)');
subLabel(svg.append('text').attr('x', 557).attr('y', 340).attr('text-anchor', 'middle').attr('font-size', 17), 'Absolute value[C', ']');
</script>
</body>
</html>
